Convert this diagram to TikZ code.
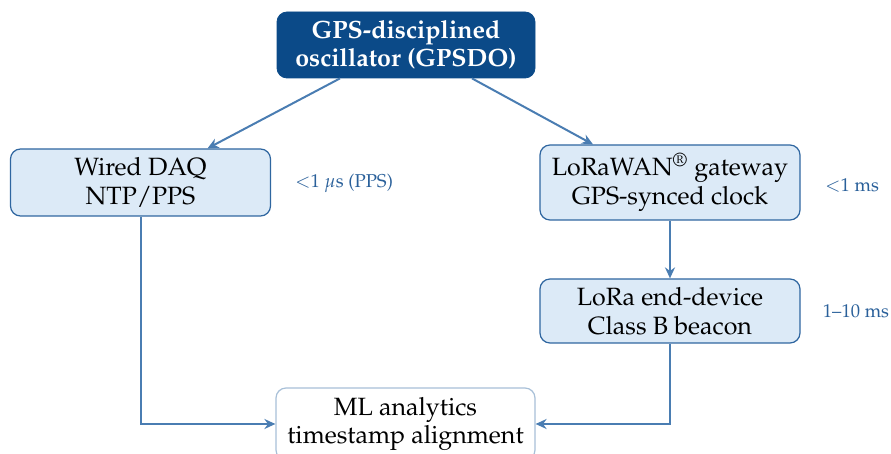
\documentclass[tikz,border=0pt]{standalone}
\usepackage[T1]{fontenc}
\usepackage{mathpazo}
\usetikzlibrary{arrows.meta,calc}
\definecolor{gpsfill}{HTML}{0B4A88}
\definecolor{boxfill}{HTML}{DCEAF7}
\definecolor{boxdraw}{HTML}{2F66A0}
\definecolor{mldraw}{HTML}{A8C0D8}
\definecolor{arrowc}{HTML}{4A7DB2}
\definecolor{labelc}{HTML}{2A609A}
\tikzset{
  topbox/.style={rounded corners=5pt, fill=gpsfill, draw=gpsfill, text=white,
    minimum width=129pt, minimum height=33pt, align=center,
    font=\fontsize{12.5}{14}\selectfont\bfseries, inner sep=0pt},
  midbox/.style={rounded corners=5pt, fill=boxfill, draw=boxdraw, line width=0.6pt,
    minimum width=130pt, align=center, inner sep=0pt,
    font=\fontsize{12.5}{14.5}\selectfont},
  mlbox/.style={rounded corners=5pt, fill=white, draw=mldraw, line width=0.6pt,
    minimum width=129.5pt, minimum height=36pt, align=center, inner sep=0pt,
    font=\fontsize{12.5}{14}\selectfont},
  conn/.style={draw=arrowc, line width=1pt, -{Stealth[length=5.5pt,width=5pt]}},
  lab/.style={text=labelc, font=\fontsize{9.3}{11}\selectfont, inner sep=0pt}
}
\begin{document}
\begin{tikzpicture}[x=0.5pt,y=-0.5pt]
\useasboundingbox (0,0) rectangle (891,454);
\node[topbox] (gps) at (406,45) {GPS-disciplined\\oscillator (GPSDO)};
\node[midbox, minimum height=33.5pt] (wired) at (140.5,182.5) {Wired DAQ\\NTP/PPS};
\node[midbox, minimum height=37.5pt] (gw) at (670,182.5) {LoRaWAN\textsuperscript{\textregistered} gateway\\GPS-synced clock};
\node[midbox, minimum height=32pt] (ed) at (670,311) {LoRa end-device\\Class B beacon};
\node[mlbox] (ml) at (405.5,424) {ML analytics\\timestamp alignment};
\node[lab] (l1) at (344,183) {$<$1 $\mu$s (PPS)};
\node[lab] (l2) at (852,185) {$<$1 ms};
\node[lab] (l3) at (856,311) {1--10 ms};
\draw[conn] ([xshift=-33pt]gps.south) -- ([xshift=33.5pt]wired.north);
\draw[conn] ([xshift=33pt]gps.south) -- ([xshift=-38.5pt]gw.north);
\draw[conn] (gw.south) -- (ed.north);
\draw[conn] (wired.south) |- (ml.west);
\draw[conn] (ed.south) |- (ml.east);
\end{tikzpicture}
\end{document}
